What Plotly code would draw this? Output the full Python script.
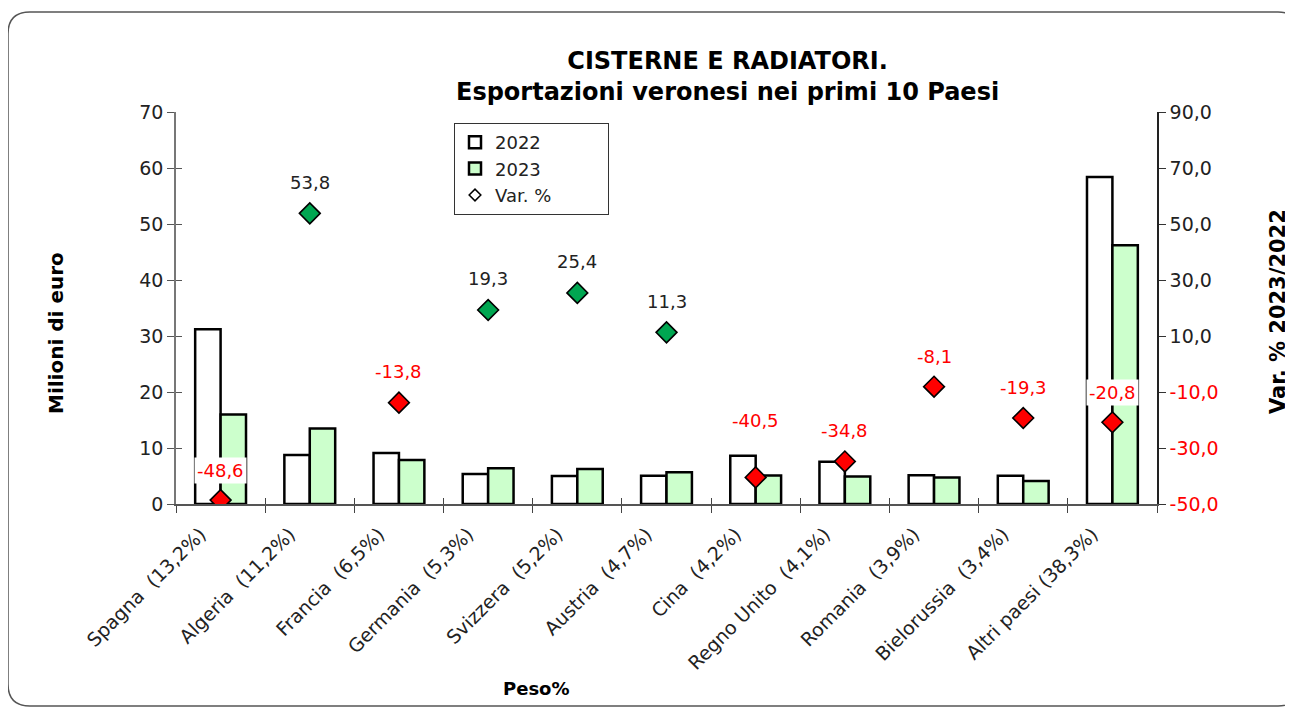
import plotly.graph_objects as go

categories = ["Spagna\u00a0 (13,2%)", "Algeria\u00a0 (11,2%)", "Francia\u00a0 (6,5%)", "Germania\u00a0 (5,3%)",
              "Svizzera\u00a0 (5,2%)", "Austria\u00a0 (4,7%)", "Cina\u00a0 (4,2%)", "Regno Unito\u00a0 (4,1%)",
              "Romania\u00a0 (3,9%)", "Bielorussia\u00a0 (3,4%)", "Altri paesi (38,3%)"]
val_2022 = [31.2, 8.75, 9.1, 5.35, 5.0, 5.05, 8.6, 7.55, 5.15, 5.05, 58.4]
val_2023 = [16.0, 13.5, 7.85, 6.4, 6.25, 5.65, 5.1, 4.9, 4.75, 4.1, 46.2]
var_pct = [-48.6, 53.8, -13.8, 19.3, 25.4, 11.3, -40.5, -34.8, -8.1, -19.3, -20.8]
left_ticks = [0, 10, 20, 30, 40, 50, 60, 70]
right_ticks = [-50, -30, -10, 10, 30, 50, 70, 90]

# style: vertical offset (px) of each data label above its marker
label_yshift = [30, 31, 31, 31, 31, 31, 57, 31, 30, 31, 30]

FONT = "DejaVu Sans"
OFF = 8                      # page body margin
W, H = 1293 - OFF, 708 - OFF
# plot area in page pixel coordinates
L, R, T, B = 176, 1157, 112, 504
PW, PH = R - L, B - T

def px(x):
    return (x - L) / PW

def py(y):
    return (B - y) / PH

def fmt(v):
    return f"{v:.1f}".replace(".", ",")

xrange_ = [-0.5, len(categories) - 0.5]
PAD = "\u00a0" * 9

fig = go.Figure()
fig.add_trace(go.Bar(name="2022", x=categories, y=val_2022,
                     marker=dict(color="white", line=dict(color="black", width=2.5))))
fig.add_trace(go.Bar(name="2023", x=categories, y=val_2023,
                     marker=dict(color="#CCFFCC", line=dict(color="black", width=2.5))))
fig.add_trace(go.Scatter(x=categories, y=var_pct, yaxis="y2", mode="markers", showlegend=False,
                         marker=dict(symbol="diamond", size=16,
                                     color=["#00A651" if v >= 0 else "#FF0000" for v in var_pct],
                                     line=dict(color="black", width=1.6))))
# legend entry for Var. %
fig.add_trace(go.Scatter(name="Var. %" + PAD, x=[categories[0]], y=[None], yaxis="y2", mode="markers",
                         marker=dict(symbol="diamond", size=9, color="white",
                                     line=dict(color="black", width=1.5))))
# dummy traces for inner (crossing) ticks
fig.add_trace(go.Scatter(x=categories, y=[None] * len(categories), xaxis="x", yaxis="y3",
                         showlegend=False, hoverinfo="skip"))
fig.add_trace(go.Scatter(x=categories, y=[None] * len(categories), xaxis="x2", yaxis="y",
                         showlegend=False, hoverinfo="skip"))

annotations = []
for c, v, s in zip(categories, var_pct, label_yshift):
    annotations.append(dict(x=c, y=v, xref="x", yref="y2", text=fmt(v), showarrow=False,
                            xanchor="center", yanchor="middle",
                            yshift=s, bgcolor="white", borderpad=2,
                            font=dict(family=FONT, size=18, color="#FF0000" if v < 0 else "#222222")))

def label(x, y, text, size, angle=0):
    return dict(x=px(x), y=py(y), xref="paper", yref="paper", showarrow=False, textangle=angle,
                xanchor="center", yanchor="middle", text=text, align="center",
                font=dict(family=FONT, size=size, color="black"))

annotations += [
    label(727, 76, "<b>CISTERNE E RADIATORI.</b><br><b>Esportazioni veronesi nei primi 10 Paesi</b>", 24),
    label(56, 333, "<b>Milioni di euro</b>", 20, -90),
    label(1278, 312, "<b>Var. % 2023/2022</b>", 21, -90),
    label(536, 688, "<b>Peso%</b>", 18),
]

right_text = [f"<span style='color:#FF0000'>{fmt(v)}</span>" if v < 0 else fmt(v) for v in right_ticks]

# rounded frame (page coordinates)
x0, x1, y0, y1, r = 8, 1300, 12, 706, 22
rx, ry = r / PW, r / PH
X0, X1, Y0, Y1 = px(x0), px(x1), py(y0), py(y1)
path = (f"M {X0 + rx} {Y0} L {X1 - rx} {Y0} Q {X1} {Y0} {X1} {Y0 - ry} "
        f"L {X1} {Y1 + ry} Q {X1} {Y1} {X1 - rx} {Y1} L {X0 + rx} {Y1} "
        f"Q {X0} {Y1} {X0} {Y1 + ry} L {X0} {Y0 - ry} Q {X0} {Y0} {X0 + rx} {Y0} Z")

tickfont = dict(family=FONT, size=19, color="#222222")

fig.update_layout(
    width=W, height=H,
    margin=dict(l=L - OFF, r=(W + OFF) - R, t=T - OFF, b=(H + OFF) - B, autoexpand=False),
    paper_bgcolor="white", plot_bgcolor="white",
    barmode="group", bargap=0.43, bargroupgap=0,
    font=dict(family=FONT, size=16, color="#222222"),
    showlegend=True,
    legend=dict(x=px(454), y=py(123), xanchor="left", yanchor="top",
                bordercolor="#333333", borderwidth=1, bgcolor="white",
                font=dict(family=FONT, size=18, color="#222222"),
                itemwidth=30, tracegroupgap=0),
    xaxis=dict(type="category", categoryorder="array", categoryarray=categories, range=xrange_,
               tickangle=-45, tickson="boundaries", ticks="outside", ticklen=7,
               ticklabelshift=-20, ticklabelstandoff=10,
               tickcolor="#444444", showline=True, linecolor="#555555", linewidth=1.5,
               showgrid=False, tickfont=dict(family=FONT, size=19, color="#222222")),
    xaxis2=dict(type="category", categoryorder="array", categoryarray=categories, range=xrange_,
                overlaying="x", anchor="y", side="bottom", tickson="boundaries",
                ticks="inside", ticklen=6, tickcolor="#444444", showticklabels=False,
                showline=False, showgrid=False),
    yaxis=dict(range=[0, 70], tickvals=left_ticks, ticks="outside", ticklen=7, tickcolor="#555555",
               showline=True, linecolor="#777777", linewidth=1.5, showgrid=False, zeroline=False,
               tickfont=tickfont),
    yaxis3=dict(range=[0, 70], tickvals=left_ticks, ticks="inside", ticklen=6, tickcolor="#555555",
                overlaying="y", side="left", anchor="x", showticklabels=False, showline=False,
                showgrid=False, zeroline=False),
    yaxis2=dict(range=[-50, 90], tickvals=right_ticks, ticktext=right_text, overlaying="y",
                side="right", anchor="x", ticks="outside", ticklen=7, tickcolor="#333333",
                showline=True, linecolor="#222222", linewidth=1.5, showgrid=False, zeroline=False,
                tickfont=tickfont),
    annotations=annotations,
    shapes=[dict(type="path", path=path, xref="paper", yref="paper",
                 line=dict(color="#555555", width=1.5), layer="above")],
)

fig.write_html("out.html")
